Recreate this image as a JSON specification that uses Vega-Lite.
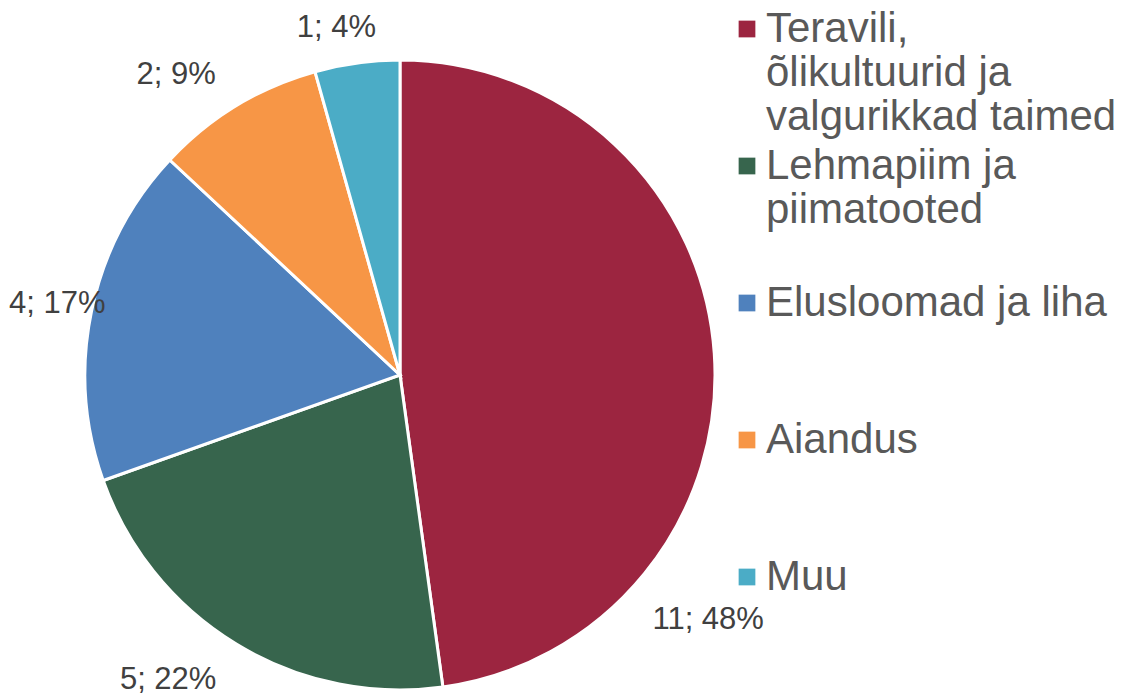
{
  "$schema": "https://vega.github.io/schema/vega-lite/v6.json",
  "width": 800,
  "height": 750,
  "padding": 0,
  "background": "white",
  "config": {"view": {"stroke": null}, "font": "Liberation Sans"},
  "data": {
    "values": [
      {"category": "Teravili, õlikultuurid ja valgurikkad taimed", "count": 11, "label": "11; 48%"},
      {"category": "Lehmapiim ja piimatooted", "count": 5, "label": "5; 22%"},
      {"category": "Elusloomad ja liha", "count": 4, "label": "4; 17%"},
      {"category": "Aiandus", "count": 2, "label": "2; 9%"},
      {"category": "Muu", "count": 1, "label": "1; 4%"}
    ]
  },
  "encoding": {
    "theta": {"field": "count", "type": "quantitative", "stack": true},
    "order": {"field": "count", "type": "quantitative", "sort": "descending"}
  },
  "layer": [
    {
      "mark": {"type": "arc", "outerRadius": 315, "stroke": "white", "strokeWidth": 3},
      "encoding": {
        "color": {
          "field": "category",
          "type": "nominal",
          "scale": {
            "domain": ["Teravili, õlikultuurid ja valgurikkad taimed", "Lehmapiim ja piimatooted", "Elusloomad ja liha", "Aiandus", "Muu"],
            "range": ["#9C2540", "#37654D", "#4F81BD", "#F79646", "#4BACC6"]
          },
          "legend": {
            "title": null,
            "orient": "none",
            "legendX": 726,
            "legendY": 8,
            "padding": 0,
            "symbolType": "square",
            "symbolSize": 280,
            "symbolStrokeWidth": 0,
            "labelFontSize": 42,
            "labelColor": "#595959",
            "labelFont": "Liberation Sans",
            "labelLimit": 600,
            "labelOffset": -2,
            "rowPadding": 7,
            "labelExpr": "datum.label == 'Teravili, õlikultuurid ja valgurikkad taimed' ? ['Teravili,', 'õlikultuurid ja', 'valgurikkad taimed'] : datum.label == 'Lehmapiim ja piimatooted' ? ['Lehmapiim ja', 'piimatooted', ''] : [datum.label, '', '']",
            "encode": {"labels": {"update": {"lineHeight": {"value": 45}}}}
          }
        }
      }
    },
    {
      "mark": {"type": "text", "radius": 350, "fontSize": 31, "color": "#404040", "font": "Liberation Sans"},
      "encoding": {"text": {"condition": {"test": "datum.count == 4", "field": "label"}, "value": ""}}
    },
    {
      "mark": {"type": "text", "radius": 350, "dx": -16, "dy": 0, "fontSize": 31, "color": "#404040", "font": "Liberation Sans"},
      "encoding": {"text": {"condition": {"test": "datum.count == 1", "field": "label"}, "value": ""}}
    },
    {
      "mark": {"type": "text", "radius": 350, "dx": -42, "dy": -1, "fontSize": 31, "color": "#404040", "font": "Liberation Sans"},
      "encoding": {"text": {"condition": {"test": "datum.count == 2", "field": "label"}, "value": ""}}
    },
    {
      "mark": {"type": "text", "radius": 350, "dx": -50, "dy": 6, "fontSize": 31, "color": "#404040", "font": "Liberation Sans"},
      "encoding": {"text": {"condition": {"test": "datum.count == 5", "field": "label"}, "value": ""}}
    },
    {
      "mark": {"type": "text", "radius": 350, "dx": -41, "dy": 269, "fontSize": 31, "color": "#404040", "font": "Liberation Sans"},
      "encoding": {"text": {"condition": {"test": "datum.count == 11", "field": "label"}, "value": ""}}
    }
  ]
}
